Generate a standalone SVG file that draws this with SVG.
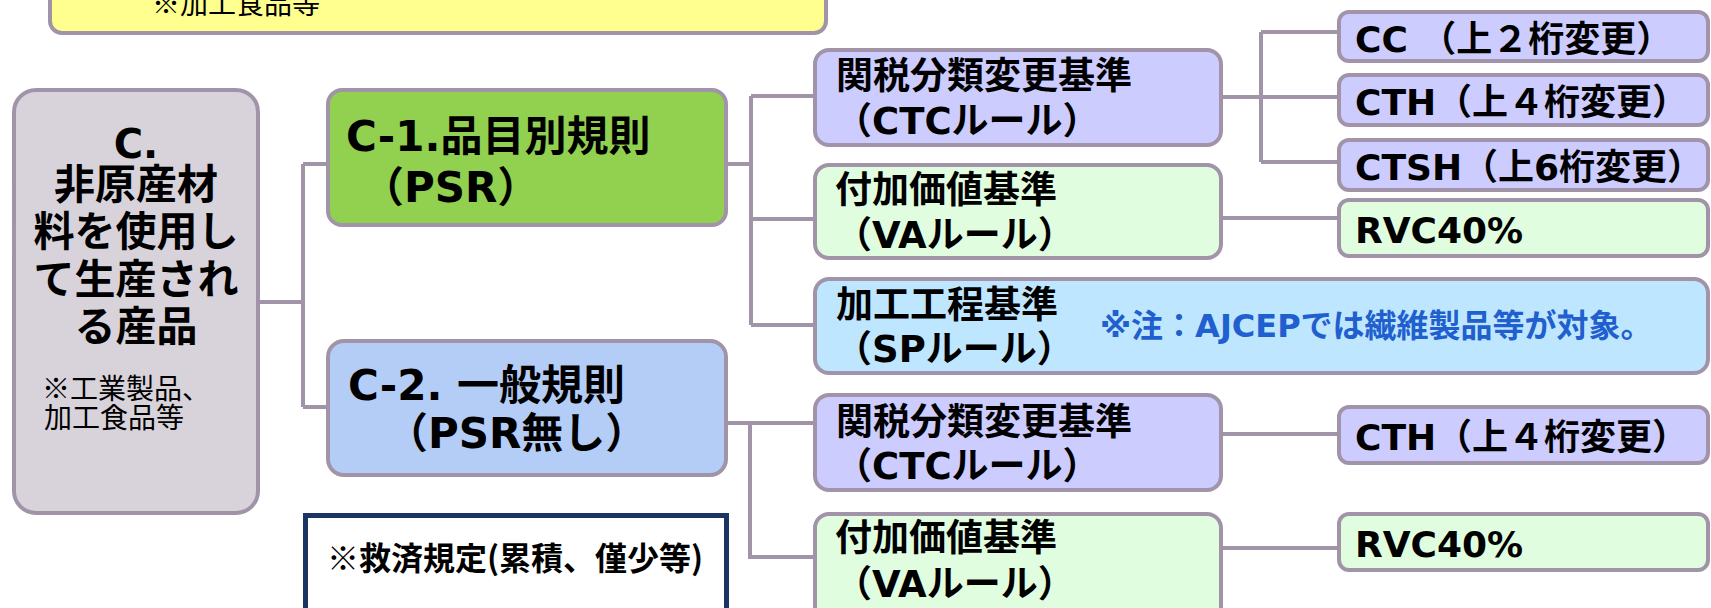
<svg xmlns="http://www.w3.org/2000/svg" width="1711" height="608" viewBox="0 0 1711 608">
<style>
.box{stroke:#a294a8;stroke-width:4}
.ln{stroke:#a294a8;stroke-width:4;fill:none}
.t{font-family:"DejaVu Sans","Noto Sans CJK JP",sans-serif;font-weight:bold;fill:#000}
.j{font-family:"Noto Sans CJK JP",sans-serif;font-weight:bold;fill:#000}
.s{font-family:"Noto Sans CJK JP",sans-serif;font-weight:normal;fill:#000;font-size:28px}
.f42{font-size:42px}
.f37{font-size:37px}
.f36{font-size:36px}
</style>
<rect width="1711" height="608" fill="#ffffff"/>
<g id="connectors">
<path class="ln" d="M260 302H303M303 164V407M303 164H328M303 407H328"/>
<path class="ln" d="M726 164H751M751 96V325M751 96H815M751 219H815M751 325H815"/>
<path class="ln" d="M726 423H815M750 423V557H815"/>
<path class="ln" d="M1221 97H1339M1261 32V162M1261 32H1339M1261 162H1339"/>
<path class="ln" d="M1221 218H1339M1221 434H1339M1221 548H1339"/>
</g>
<g id="note-top">
<rect class="box" x="50" y="-40" width="776" height="73" rx="12" fill="#ffff8f"/>
<text class="s" x="152" y="14">※加工食品等</text>
</g>
<g id="node-c">
<rect class="box" x="14" y="90" width="244" height="423" rx="22" fill="#d8d3da"/>
<text class="t" font-size="40" x="136" y="158" text-anchor="middle">C.</text>
<text class="j" font-size="41" text-anchor="middle"><tspan x="136" y="199">非原産材</tspan><tspan x="136" y="246">料を使用し</tspan><tspan x="136" y="294">て生産され</tspan><tspan x="136" y="341">る産品</tspan></text>
<text class="s" x="42" y="399">※工業製品、</text>
<text class="s" x="44" y="428">加工食品等</text>
</g>
<g id="node-c1">
<rect class="box" x="328" y="90" width="398" height="135" rx="14" fill="#92d050"/>
<text class="t f42" x="346" y="151">C-1.品目別規則</text>
<text class="t f42" x="362" y="202">（PSR）</text>
</g>
<g id="node-c2">
<rect class="box" x="328" y="341" width="398" height="134" rx="16" fill="#b3cdf7"/>
<text class="t f42" x="348" y="400">C-2. 一般規則</text>
<text class="t f42" x="386" y="448">（PSR無し）</text>
</g>
<g id="node-relief">
<rect x="305.5" y="515.5" width="421" height="120" fill="#ffffff" stroke="#1a3464" stroke-width="5"/>
<text class="j" font-size="32" x="327" y="570">※救済規定(累積、僅少等)</text>
</g>
<g id="node-ctc1">
<rect class="box" x="815" y="50" width="406" height="95" rx="14" fill="#ccccff"/>
<text class="t f37" x="836" y="89">関税分類変更基準</text>
<text class="t f37" x="835" y="134">（CTCルール）</text>
</g>
<g id="node-va1">
<rect class="box" x="815" y="165" width="406" height="93" rx="14" fill="#e0fde0"/>
<text class="t f37" x="835" y="203">付加価値基準</text>
<text class="t f37" x="835" y="248">（VAルール）</text>
</g>
<g id="node-sp">
<rect class="box" x="815" y="279" width="893" height="94" rx="14" fill="#bfe6ff"/>
<text class="t f37" x="836" y="318">加工工程基準</text>
<text class="t f37" x="835" y="362">（SPルール）</text>
<text class="t" font-size="32" x="1100" y="337" fill="#1f5fce" style="fill:#1f5fce">※注：AJCEPでは繊維製品等が対象。</text>
</g>
<g id="node-ctc2">
<rect class="box" x="815" y="395" width="406" height="95" rx="14" fill="#ccccff"/>
<text class="t f37" x="836" y="435">関税分類変更基準</text>
<text class="t f37" x="835" y="479">（CTCルール）</text>
</g>
<g id="node-va2">
<rect class="box" x="815" y="514" width="406" height="110" rx="14" fill="#e0fde0"/>
<text class="t f37" x="835" y="551">付加価値基準</text>
<text class="t f37" x="835" y="597">（VAルール）</text>
</g>
<g id="node-cc">
<rect class="box" x="1339" y="12" width="369" height="49" rx="10" fill="#ccccff"/>
<text class="t f36" x="1355" y="52">CC （上２桁変更）</text>
</g>
<g id="node-cth">
<rect class="box" x="1339" y="75" width="369" height="50" rx="10" fill="#ccccff"/>
<text class="t f36" x="1355" y="115">CTH（上４桁変更）</text>
</g>
<g id="node-ctsh">
<rect class="box" x="1339" y="140" width="369" height="50" rx="10" fill="#ccccff"/>
<text class="t f36" x="1355" y="180">CTSH（上6桁変更）</text>
</g>
<g id="node-rvc1">
<rect class="box" x="1339" y="200" width="369" height="56" rx="10" fill="#e0fde0"/>
<text class="t f36" x="1355" y="243">RVC40%</text>
</g>
<g id="node-cth2">
<rect class="box" x="1339" y="407" width="369" height="56" rx="10" fill="#ccccff"/>
<text class="t f36" x="1355" y="450">CTH（上４桁変更）</text>
</g>
<g id="node-rvc2">
<rect class="box" x="1339" y="514" width="369" height="56" rx="10" fill="#e0fde0"/>
<text class="t f36" x="1355" y="557">RVC40%</text>
</g>
</svg>
